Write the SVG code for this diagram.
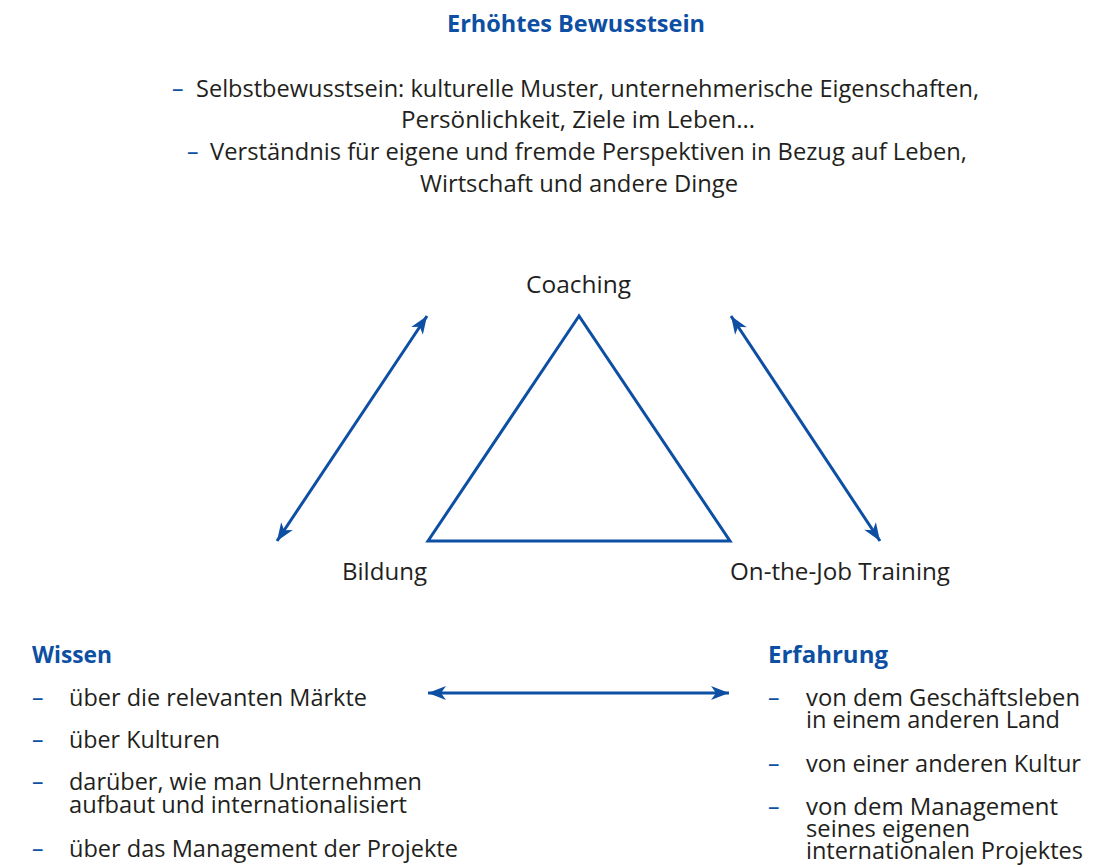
<svg xmlns="http://www.w3.org/2000/svg" width="1113" height="867" viewBox="0 0 1113 867">
<style>
text{font-family:"Open Sans","Noto Sans","DejaVu Sans",sans-serif;fill:#231f20}
.t{font-size:23px}
.l{font-size:23px}
.h{font-weight:bold;fill:#0d4fa3}
.d{fill:#0d4fa3}
.c{stroke:#0d4fa3;stroke-width:3;fill:none}
</style>
<defs>
<marker id="ah" markerUnits="userSpaceOnUse" viewBox="-20 -9 22 18" refX="0" refY="0" markerWidth="22" markerHeight="18" orient="auto-start-reverse">
<path d="M0,0 L-18,-7 L-13,0 L-18,7 z" fill="#0d4fa3"/>
</marker>
</defs>
<g id="awareness">
<text class="t h" x="447" y="32" textLength="258" lengthAdjust="spacingAndGlyphs">Erhöhtes Bewusstsein</text>
<text class="t d" x="172" y="97">–</text>
<text class="t" x="196" y="97" textLength="783" lengthAdjust="spacingAndGlyphs">Selbstbewusstsein: kulturelle Muster, unternehmerische Eigenschaften,</text>
<text class="t" x="401" y="128" textLength="354" lengthAdjust="spacingAndGlyphs">Persönlichkeit, Ziele im Leben…</text>
<text class="t d" x="187" y="160">–</text>
<text class="t" x="210" y="160" textLength="757" lengthAdjust="spacingAndGlyphs">Verständnis für eigene und fremde Perspektiven in Bezug auf Leben,</text>
<text class="t" x="420" y="192" textLength="318" lengthAdjust="spacingAndGlyphs">Wirtschaft und andere Dinge</text>
</g>
<g id="triangle">
<path class="c" d="M579,316 L428,541 L730,541 Z"/>
</g>
<g id="coaching">
<text class="t" x="526" y="293" textLength="105" lengthAdjust="spacingAndGlyphs">Coaching</text>
</g>
<g id="bildung">
<text class="t" x="342" y="580" textLength="85" lengthAdjust="spacingAndGlyphs">Bildung</text>
</g>
<g id="training">
<text class="t" x="730" y="580" textLength="220" lengthAdjust="spacingAndGlyphs">On-the-Job Training</text>
</g>
<g id="connectors">
<line class="c" x1="277" y1="541" x2="427" y2="316" marker-start="url(#ah)" marker-end="url(#ah)"/>
<line class="c" x1="731" y1="316" x2="880" y2="541" marker-start="url(#ah)" marker-end="url(#ah)"/>
<line class="c" x1="428" y1="693" x2="729" y2="693" marker-start="url(#ah)" marker-end="url(#ah)"/>
</g>
<g id="wissen">
<text class="l h" x="32" y="663" textLength="80" lengthAdjust="spacingAndGlyphs">Wissen</text>
<text class="l d" x="32" y="706">–</text>
<text class="l" x="69" y="706" textLength="298" lengthAdjust="spacingAndGlyphs">über die relevanten Märkte</text>
<text class="l d" x="32" y="748">–</text>
<text class="l" x="69" y="748" textLength="151" lengthAdjust="spacingAndGlyphs">über Kulturen</text>
<text class="l d" x="32" y="790">–</text>
<text class="l" x="69" y="790" textLength="353" lengthAdjust="spacingAndGlyphs">darüber, wie man Unternehmen</text>
<text class="l" x="69" y="813" textLength="338" lengthAdjust="spacingAndGlyphs">aufbaut und internationalisiert</text>
<text class="l d" x="32" y="857">–</text>
<text class="l" x="69" y="857" textLength="389" lengthAdjust="spacingAndGlyphs">über das Management der Projekte</text>
</g>
<g id="erfahrung">
<text class="l h" x="768" y="663" textLength="120" lengthAdjust="spacingAndGlyphs">Erfahrung</text>
<text class="l d" x="768" y="706">–</text>
<text class="l" x="806" y="706" textLength="274" lengthAdjust="spacingAndGlyphs">von dem Geschäftsleben</text>
<text class="l" x="806" y="728" textLength="254" lengthAdjust="spacingAndGlyphs">in einem anderen Land</text>
<text class="l d" x="768" y="772">–</text>
<text class="l" x="806" y="772" textLength="275" lengthAdjust="spacingAndGlyphs">von einer anderen Kultur</text>
<text class="l d" x="768" y="815">–</text>
<text class="l" x="806" y="815" textLength="252" lengthAdjust="spacingAndGlyphs">von dem Management</text>
<text class="l" x="806" y="837" textLength="164" lengthAdjust="spacingAndGlyphs">seines eigenen</text>
<text class="l" x="806" y="859" textLength="277" lengthAdjust="spacingAndGlyphs">internationalen Projektes</text>
</g>
</svg>
